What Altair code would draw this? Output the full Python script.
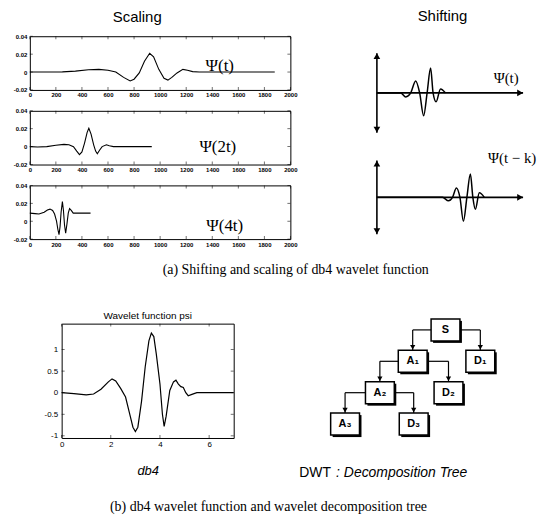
import altair as alt
import pandas as pd

SANS = "Liberation Sans"
SERIF = "Liberation Serif"

# ---------------- scaling panels ----------------
scale_ticks_x = [0, 200, 400, 600, 800, 1000, 1200, 1400, 1600, 1800, 2000]
scale_ticks_y = [-0.02, 0, 0.02, 0.04]

psi1_x = [0, 150, 250, 350, 450, 530, 600, 660, 720, 770, 800, 840, 880, 920, 950,
          990, 1030, 1060, 1090, 1130, 1175, 1210, 1250, 1300, 1880]
psi1_y = [0, 0, 0.0002, 0.001, 0.0025, 0.003, 0.002, 0.0, -0.006, -0.010, -0.008,
          -0.001, 0.012, 0.021, 0.017, 0.003, -0.007, -0.009, -0.006, -0.001, 0.003,
          0.002, 0.0005, 0.0, 0.0]

psi2_x = [0, 60, 130, 200, 262, 300, 335, 360, 381, 400, 420, 440, 453, 470, 490,
          505, 518, 535, 555, 588, 610, 642, 936]
psi2_y = [0, -0.0005, 0, 0.0015, 0.0025, 0.002, 0.0, -0.005, -0.009, -0.006, 0.004,
          0.016, 0.0205, 0.014, 0.002, -0.005, -0.008, -0.004, 0.0, 0.002, 0.001,
          0.0, 0.0]

psi3_x = [0, 40, 70, 110, 135, 155, 175, 190, 205, 215, 224, 232, 240, 250, 258,
          266, 275, 285, 295, 305, 318, 333, 466]
psi3_y = [0.009, 0.0085, 0.008, 0.010, 0.0125, 0.0135, 0.012, 0.008, 0.0, -0.009,
          -0.015, -0.006, 0.010, 0.022, 0.012, -0.004, -0.0135, -0.003, 0.009, 0.014,
          0.012, 0.009, 0.009]

scale_labels = ["\u03a8(t)", "\u03a8(2t)", "\u03a8(4t)"]
scale_label_x = [1458, 1443, 1496]
scale_label_y = [0.007, 0.0, -0.005]

# ---------------- shifting schematic ----------------
shift_top_dx = [0, 24, 29, 34, 39, 43, 47, 50.5, 54, 56.5, 59.5, 64, 69]
shift_top_dy = [0, 0, -4, 0, 12, 0, -23, 0, 25, 0, -9, 4, 0]
shift_bot_dx = [0, 66, 72, 76, 80, 83.5, 87, 90.5, 94, 96.5, 99, 103, 108]
shift_bot_dy = [0, 0, -3.5, 0, 9.5, 0, -24, 0, 23.5, 0, -12, 4.5, 0]
shift_baseline = [145, 40]
shift_half = [40, 37]
shift_axis_len = 147
shift_labels = ["\u03a8(t)", "\u03a8(t \u2212 k)"]
shift_label_x = [130, 136]
shift_label_y = [160, 80]

# ---------------- db4 wavelet function psi ----------------
db4_t = [0, 0.5, 1.0, 1.3, 1.6, 1.9, 2.05, 2.2, 2.4, 2.6, 2.75, 2.9, 3.0, 3.1, 3.25,
         3.4, 3.55, 3.65, 3.75, 3.85, 4.0, 4.1, 4.17, 4.25, 4.4, 4.55, 4.65, 4.75,
         4.85, 4.95, 5.05, 5.15, 5.3, 5.5, 7.0]
db4_psi = [0, -0.02, -0.05, -0.03, 0.08, 0.25, 0.32, 0.27, 0.1, -0.1, -0.45, -0.8,
           -0.9, -0.8, -0.2, 0.6, 1.2, 1.38, 1.3, 0.9, 0.2, -0.5, -0.78, -0.55, 0.05,
           0.25, 0.29, 0.2, 0.14, 0.12, 0.0, -0.07, -0.04, 0.0, 0.0]
db4_ticks_x = [0, 2, 4, 6]
db4_ticks_y = [-1, -0.5, 0, 0.5, 1]

# ---------------- decomposition tree ----------------
tree_nodes = ["S", "A\u2081", "D\u2081", "A\u2082", "D\u2082", "A\u2083", "D\u2083"]
tree_x = [154, 121, 189, 88, 157, 53, 122]
tree_level = [0, 1, 1, 2, 2, 3, 3]
tree_parent = ["", "S", "S", "A\u2081", "A\u2081", "A\u2082", "A\u2082"]
box_hw = 14.5
box_hh = 0.35


def frame_ticks(xvals, yvals, xdom, ydom, X, Y, size):
    h = size / 2.0
    d_b = pd.DataFrame({"x": xvals, "y": [ydom[0]] * len(xvals)})
    d_t = pd.DataFrame({"x": xvals, "y": [ydom[1]] * len(xvals)})
    d_l = pd.DataFrame({"x": [xdom[0]] * len(yvals), "y": yvals})
    d_r = pd.DataFrame({"x": [xdom[1]] * len(yvals), "y": yvals})
    kw = dict(size=size, thickness=0.8, color="black")
    return [
        alt.Chart(d_b).mark_tick(orient="vertical", yOffset=-h, **kw).encode(x=X, y=Y),
        alt.Chart(d_t).mark_tick(orient="vertical", yOffset=h, **kw).encode(x=X, y=Y),
        alt.Chart(d_l).mark_tick(orient="horizontal", xOffset=h, **kw).encode(x=X, y=Y),
        alt.Chart(d_r).mark_tick(orient="horizontal", xOffset=-h, **kw).encode(x=X, y=Y),
    ]


MINUS_FIX = "replace(format(datum.value, '~g'), '\u2212', '-')"

# ---------------- scaling panels ----------------
xdom_s = [0, 2000]
ydom_s = [-0.02, 0.04]
xsc_s = alt.Scale(domain=xdom_s, nice=False, zero=False)
ysc_s = alt.Scale(domain=ydom_s, nice=False, zero=False)
ax_sx = alt.Axis(values=scale_ticks_x, title=None, format="d", labelFont=SANS, labelFontSize=6,
                 labelFontWeight="bold", labelColor="black", ticks=False, domain=False,
                 grid=False, labelPadding=2, labelFlush=False, labelOverlap=False)
ax_sy = alt.Axis(values=scale_ticks_y, title=None, labelFont=SANS, labelFontSize=6,
                 labelFontWeight="bold", labelColor="black", ticks=False, domain=False,
                 grid=False, labelPadding=3, labelFlush=False, labelOverlap=False,
                 labelExpr=MINUS_FIX)


def scaling_panel(xs, ys, i, title=None):
    X = alt.X("x:Q", scale=xsc_s, axis=ax_sx)
    Y = alt.Y("y:Q", scale=ysc_s, axis=ax_sy)
    line = alt.Chart(pd.DataFrame({"x": xs, "y": ys})).mark_line(
        color="black", strokeWidth=1.1).encode(x=X, y=Y)
    lab = alt.Chart(pd.DataFrame({"x": [scale_label_x[i]], "y": [scale_label_y[i]],
                                  "t": [scale_labels[i]]})).mark_text(
        font=SERIF, fontSize=17, color="black").encode(x=X, y=Y, text="t:N")
    ch = alt.layer(line, *frame_ticks(scale_ticks_x, scale_ticks_y, xdom_s, ydom_s, X, Y, 3), lab).properties(
        width=262, height=54, view=alt.ViewBackground(stroke="black", strokeWidth=1))
    if title:
        ch = ch.properties(title=alt.TitleParams(title, font=SANS, fontSize=15, fontWeight="normal",
                                                 color="black", offset=8, dx=-23, anchor="middle"))
    return ch


p1 = scaling_panel(psi1_x, psi1_y, 0, "Scaling")
p2 = scaling_panel(psi2_x, psi2_y, 1)
p3 = scaling_panel(psi3_x, psi3_y, 2)
scale_col = alt.vconcat(p1, p2, p3, spacing=8)

# ---------------- shifting schematic ----------------
SX = alt.Scale(domain=[-5, 161], nice=False, zero=False)
SY = alt.Scale(domain=[0, 202], nice=False, zero=False)
sx = alt.X("x:Q", scale=SX, axis=None)
sy = alt.Y("y:Q", scale=SY, axis=None)

rules = []
ups, downs, rights = [], [], []
for b, hl in zip(shift_baseline, shift_half):
    rules.append(dict(x=0, y=b - hl, x2=0, y2=b + hl))
    rules.append(dict(x=0, y=b, x2=shift_axis_len, y2=b))
    ups.append(dict(x=0, y=b + hl))
    downs.append(dict(x=0, y=b - hl))
    rights.append(dict(x=shift_axis_len, y=b))

wave_rows = []
for k, (dxs, dys) in enumerate([(shift_top_dx, shift_top_dy), (shift_bot_dx, shift_bot_dy)]):
    for j, (a, v) in enumerate(zip(dxs, dys)):
        wave_rows.append(dict(x=a, y=shift_baseline[k] + v, w=k, o=j))

shift_axes = alt.Chart(pd.DataFrame(rules)).mark_rule(color="black", strokeWidth=1.6).encode(
    x=sx, y=sy, x2="x2:Q", y2="y2:Q")
head_kw = dict(filled=True, color="black", size=45, opacity=1)
shift_up = alt.Chart(pd.DataFrame(ups)).mark_point(shape="triangle-up", yOffset=3, **head_kw).encode(x=sx, y=sy)
shift_down = alt.Chart(pd.DataFrame(downs)).mark_point(shape="triangle-down", yOffset=-3, **head_kw).encode(x=sx, y=sy)
shift_right = alt.Chart(pd.DataFrame(rights)).mark_point(shape="triangle-right", xOffset=-3, **head_kw).encode(x=sx, y=sy)
shift_wave = alt.Chart(pd.DataFrame(wave_rows)).mark_line(
    color="black", strokeWidth=1.5, interpolate="monotone").encode(
    x=sx, y=sy, detail="w:N", order="o:Q")
shift_text = alt.Chart(pd.DataFrame({"x": shift_label_x, "y": shift_label_y, "t": shift_labels})).mark_text(
    font=SERIF, fontSize=15, color="black").encode(x=sx, y=sy, text="t:N")

shift_chart = alt.layer(shift_axes, shift_wave, shift_up, shift_down, shift_right, shift_text).properties(
    width=166, height=202, view=alt.ViewBackground(strokeOpacity=0),
    title=alt.TitleParams("Shifting", font=SANS, fontSize=15, fontWeight="normal", color="black",
                          offset=12, dx=-12, anchor="middle"))

row_a = alt.hconcat(scale_col, shift_chart, spacing=74).properties(
    title=alt.TitleParams("(a) Shifting and scaling of db4 wavelet function", orient="bottom",
                          font=SERIF, fontSize=14, fontWeight="normal", color="black",
                          offset=16, dx=21, anchor="middle"))

# ---------------- db4 chart ----------------
xdom_d = [0, 7]
ydom_d = [-1.05, 1.6]
DX = alt.Scale(domain=xdom_d, nice=False, zero=False)
DY = alt.Scale(domain=ydom_d, nice=False, zero=False)
ax_dx = alt.Axis(values=db4_ticks_x, title="db4", titleFont=SANS, titleFontStyle="italic",
                 titleFontWeight="normal", titleFontSize=13, titleColor="black", titlePadding=16,
                 labelFont=SANS, labelFontSize=8, labelColor="black", ticks=False, domain=False,
                 grid=False, labelPadding=3, labelFlush=False, labelOverlap=False)
ax_dy = alt.Axis(values=db4_ticks_y, title=None, labelFont=SANS, labelFontSize=8, labelColor="black",
                 ticks=False, domain=False, grid=False, labelPadding=4, labelFlush=False,
                 labelOverlap=False, labelExpr=MINUS_FIX)
DXe = alt.X("x:Q", scale=DX, axis=ax_dx)
DYe = alt.Y("y:Q", scale=DY, axis=ax_dy)
db4_line = alt.Chart(pd.DataFrame({"x": db4_t, "y": db4_psi})).mark_line(
    color="black", strokeWidth=1.2).encode(x=DXe, y=DYe)
db4_chart = alt.layer(db4_line, *frame_ticks(db4_ticks_x, db4_ticks_y, xdom_d, ydom_d, DXe, DYe, 3)).properties(
    width=173, height=115, view=alt.ViewBackground(stroke="black", strokeWidth=1),
    title=alt.TitleParams("Wavelet function psi", font=SANS, fontSize=10, fontWeight="normal",
                          color="black", offset=3, anchor="middle"))

# ---------------- tree chart ----------------
TX = alt.Scale(domain=[0, 220], nice=False, zero=False)
TY = alt.Scale(domain=[-0.2, 4.9], nice=False, zero=False, reverse=True)
tx = alt.X("x:Q", scale=TX, axis=None)
ty = alt.Y("y:Q", scale=TY, axis=None)

box_rows = [dict(x=cx - box_hw, x2=cx + box_hw, y=cy - box_hh, y2=cy + box_hh,
                 cx=cx, cy=cy, t=n) for n, cx, cy in zip(tree_nodes, tree_x, tree_level)]
edge_rows, head_rows = [], []
for n, cx, cy, p in zip(tree_nodes, tree_x, tree_level, tree_parent):
    if not p:
        continue
    j = tree_nodes.index(p)
    px, py = tree_x[j], tree_level[j]
    side = -1 if cx < px else 1
    edge_rows.append(dict(x=px + side * box_hw, y=py, x2=cx, y2=py))
    edge_rows.append(dict(x=cx, y=py, x2=cx, y2=cy - box_hh))
    head_rows.append(dict(x=cx, y=cy - box_hh))

boxes = pd.DataFrame(box_rows)
tree_edges = alt.Chart(pd.DataFrame(edge_rows)).mark_rule(color="black", strokeWidth=1.2).encode(
    x=tx, y=ty, x2="x2:Q", y2="y2:Q")
tree_heads = alt.Chart(pd.DataFrame(head_rows)).mark_point(
    shape="triangle-down", filled=True, color="black", size=28, opacity=1, yOffset=-3).encode(x=tx, y=ty)
tree_shadow = alt.Chart(boxes).mark_rect(color="black", xOffset=2, x2Offset=2, yOffset=2, y2Offset=2).encode(
    x=tx, y=ty, x2="x2:Q", y2="y2:Q")
tree_box = alt.Chart(boxes).mark_rect(fill="white", stroke="black", strokeWidth=1.5).encode(
    x=tx, y=ty, x2="x2:Q", y2="y2:Q")
tree_text = alt.Chart(boxes).mark_text(font=SANS, fontSize=11, fontWeight="bold", color="black").encode(
    x=alt.X("cx:Q", scale=TX, axis=None), y=alt.Y("cy:Q", scale=TY, axis=None), text="t:N")
dwt_label = alt.Chart(pd.DataFrame({"x": [7], "y": [4.55], "t": ["DWT"]})).mark_text(
    font=SANS, fontSize=14, color="black", align="left").encode(x=tx, y=ty, text="t:N")
dwt_label2 = alt.Chart(pd.DataFrame({"x": [44], "y": [4.55], "t": [": Decomposition Tree"]})).mark_text(
    font=SANS, fontSize=14, fontStyle="italic", color="black", align="left").encode(x=tx, y=ty, text="t:N")

tree_chart = alt.layer(tree_edges, tree_heads, tree_shadow, tree_box, tree_text, dwt_label, dwt_label2).properties(
    width=220, height=161, view=alt.ViewBackground(strokeOpacity=0))

spacer = alt.Chart(pd.DataFrame({"a": [0]})).mark_point(opacity=0).properties(
    width=13, height=1, view=alt.ViewBackground(strokeOpacity=0))

row_b = alt.hconcat(spacer, alt.hconcat(db4_chart, tree_chart, spacing=56), spacing=0).properties(
    title=alt.TitleParams("(b) db4 wavelet function and wavelet decomposition tree", orient="bottom",
                          font=SERIF, fontSize=14, fontWeight="normal", color="black",
                          offset=16, dx=-2, anchor="middle"))

chart = alt.vconcat(row_a, row_b, spacing=32).properties(
    padding={"left": 12, "top": 8, "right": 0, "bottom": 0},
    background="white",
).configure_view(stroke="transparent")

chart.save("out.html", embed_options={"renderer": "svg", "actions": False})
